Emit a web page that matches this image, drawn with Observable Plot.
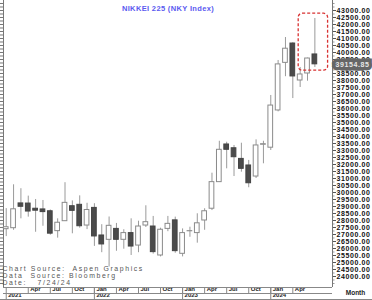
<!DOCTYPE html>
<html><head><meta charset="utf-8">
<script src="https://cdn.jsdelivr.net/npm/d3@7"></script>
<script src="https://cdn.jsdelivr.net/npm/@observablehq/plot@0.6"></script>
<style>
body{margin:0;background:#fff}
svg{display:block}
</style>
</head><body><div id="chart"></div>
<script>
// Monthly OHLC, NIKKEI 225, Jan 2021 – Jul 2024
const months = ["2021-01","2021-02","2021-03","2021-04","2021-05","2021-06","2021-07","2021-08","2021-09","2021-10","2021-11","2021-12",
  "2022-01","2022-02","2022-03","2022-04","2022-05","2022-06","2022-07","2022-08","2022-09","2022-10","2022-11","2022-12",
  "2023-01","2023-02","2023-03","2023-04","2023-05","2023-06","2023-07","2023-08","2023-09","2023-10","2023-11","2023-12",
  "2024-01","2024-02","2024-03","2024-04","2024-05","2024-06","2024-07"];
const open  = [27380,27450,29220,29210,28840,28790,28660,27240,27950,29020,29120,27640,
               28900,26930,26620,27400,26620,27100,26210,27640,27570,25500,27400,28010,
               25620,27230,27100,28000,28840,30740,33430,33160,32400,31930,31140,33410,
               33200,35860,39260,40640,38000,38500,39860];
const high  = [28850,30550,30270,29740,29500,29430,28750,28120,30700,29400,29760,29230,
               29200,27700,28250,27790,27340,28120,27950,29050,28290,27450,28290,28240,
               27400,27520,28480,28840,31380,33660,33590,33360,33520,32290,33760,33660,
               36930,39430,41070,40700,38930,39600,42430];
const low   = [26850,27300,28120,28240,27160,27590,26950,26740,27950,27050,27450,27350,
               26150,25700,24680,25800,25950,25500,25700,27500,25600,25400,27200,25660,
               25400,26800,26380,27300,28710,30740,31690,31140,31450,30340,31000,32050,
               33000,35760,38270,36710,37500,37950,38930];
const close = [27520,28800,28980,28640,28700,28600,27060,27840,29260,28690,27590,28750,
               26860,26290,27620,26620,27100,26140,27570,27880,25740,27340,27760,25810,
               27100,27240,27800,28660,30740,33050,33050,32520,31690,30660,33360,33450,
               36210,39150,40270,38290,38430,39570,39154.85];

const monthTickIdx = [3,6,9,12,15,18,21,24,27,30,33,36,39];
const monthTickLabels = ["Apr","Jul","Oct","Jan","Apr","Jul","Oct","Jan","Apr","Jul","Oct","Jan","Apr"];
const yearTickIdx = [0,12,24,36];
const yearTickLabels = ["2021","2022","2023","2024"];
const yTicks = d3.range(24000, 43001, 500);
const yMinorTicks = d3.range(23500, 43701, 250);
const titleText = "NIKKEI 225 (NKY Index)";
const captionLines = ["Chart Source:  Aspen Graphics", "Data  Source: Bloomberg", "Date:   7/24/24"];
const xAxisName = "Month";
// highlighted latest month (red dashed box), in month-index and price units
const highlight = [{x1: 39.8, x2: 43.8, y1: 38700, y2: 42770}];

const data = months.map((m, i) => ({i, m, open: open[i], high: high[i], low: low[i], close: close[i]}));
const last = data[data.length - 1];

const W = 372, H = 300, ML = 3, MR = 40, MT = 0, MB = 13;
const xDomain = [-0.37, 44.4];
const yDomain = [23214, 43714];
const up = d => d.close >= d.open;
const fmt = d3.format(".2f");

const font = "'Liberation Sans', Arial, sans-serif";

const chart = Plot.plot({
  width: W, height: H,
  marginLeft: ML, marginRight: MR, marginTop: MT, marginBottom: MB,
  style: {fontFamily: font, background: "white", overflow: "visible"},
  x: {domain: xDomain, axis: null},
  y: {domain: yDomain, axis: null},
  color: {type: "identity"},
  marks: [
    // frame lines
    Plot.ruleX([xDomain[0], xDomain[1]], {stroke: "#777", strokeWidth: 1}),
    // left minor ticks
    Plot.axisY(yMinorTicks, {anchor: "left", tickSize: 3, tickFormat: () => "", stroke: "#777"}),
    // right axis
    Plot.axisY(yMinorTicks, {anchor: "right", tickSize: 1.5, tickFormat: () => "", stroke: "#999"}),
    Plot.axisY(yTicks, {anchor: "right", tickSize: 3, tickPadding: 1, tickFormat: fmt,
      fontWeight: "bold", fontSize: 7, fill: "#111", stroke: "#555"}),
    // candles
    Plot.ruleX(data, {x: "i", y1: "low", y2: "high", stroke: "#9a9a9a", strokeWidth: 1}),
    Plot.rect(data, {x1: d => d.i - 0.32, x2: d => d.i + 0.32, y1: "open", y2: "close",
      fill: d => up(d) ? "white" : "#4b4b4b",
      stroke: d => up(d) ? "#8a8a8a" : "#444", strokeWidth: 1}),
    // highlight box
    Plot.rect(highlight, {x1: "x1", x2: "x2", y1: "y1", y2: "y2", fill: "none",
      stroke: "#d83232", strokeWidth: 1.3, strokeDasharray: "3,2", rx: 4}),
    // last value tag
    Plot.text([last], {y: "close", frameAnchor: "right", dx: 3, textAnchor: "start",
      text: d => fmt(d.close), fill: "#e6e6e6", stroke: "#666", strokeWidth: 7,
      strokeLinejoin: "miter", paintOrder: "stroke", fontWeight: "bold", fontSize: 7}),
    // title
    Plot.text([titleText], {frameAnchor: "top", dy: 5, fill: "#5a5af0", fontWeight: "bold", fontSize: 7.5}),
    // caption
    Plot.text([captionLines[0]], {frameAnchor: "bottom-left", dx: -1, dy: -17, textAnchor: "start", fill: "#555", fontSize: 6.9}),
    Plot.text([captionLines[1]], {frameAnchor: "bottom-left", dx: -1, dy: -10, textAnchor: "start", fill: "#555", fontSize: 6.9}),
    Plot.text([captionLines[2]], {frameAnchor: "bottom-left", dx: -1, dy: -3, textAnchor: "start", fill: "#555", fontSize: 6.9}),
    // x axis band: month row and year row
    Plot.axisX(monthTickIdx, {anchor: "bottom", tickSize: 6, tickFormat: () => "", stroke: "#888"}),
    Plot.axisX(yearTickIdx, {anchor: "bottom", tickSize: 12, tickFormat: () => "", stroke: "#888"}),
    Plot.text(monthTickIdx, {x: d => d, text: (d, k) => monthTickLabels[k], frameAnchor: "bottom", dy: 3.2, dx: 2,
      textAnchor: "start", fontSize: 6, fontWeight: "bold", fill: "#222"}),
    Plot.text(yearTickIdx, {x: d => d, text: (d, k) => yearTickLabels[k], frameAnchor: "bottom", dy: 9.2, dx: 2,
      textAnchor: "start", fontSize: 6, fontWeight: "bold", fill: "#222"}),
    Plot.text([xAxisName], {frameAnchor: "bottom-right", dx: 23, dy: 7.5, textAnchor: "middle", fontSize: 6.5, fontWeight: "bold", fill: "#222"})
  ]
});

const svg = d3.select(chart);
// text spacing tweaks
svg.selectAll("text").each(function () {
  const t = this.textContent;
  const sel = d3.select(this);
  if (captionLines.includes(t)) {
    sel.attr("xml:space", "preserve").style("white-space", "pre").style("letter-spacing", "1.6px");
  } else if (/^\d+\.\d\d$/.test(t)) {
    sel.style("letter-spacing", "0.6px");
  } else if (t === titleText) {
    sel.style("letter-spacing", "0.35px");
  }
});
// horizontal lines of the date band
const bandTop = H - MB;
[[bandTop, ML, W - MR], [bandTop + 6, ML, W - MR], [H - 1, 0, W]].forEach(([y, x1, x2]) => {
  svg.append("line").attr("x1", x1).attr("x2", x2).attr("y1", y + 0.5).attr("y2", y + 0.5)
    .attr("stroke", "#888").attr("stroke-width", 1);
});

document.getElementById("chart").append(chart);
</script>
</body></html>
